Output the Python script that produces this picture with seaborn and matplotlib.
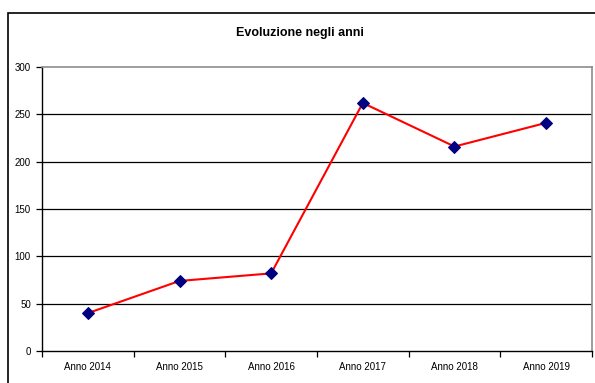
import matplotlib
matplotlib.use("Agg")
import matplotlib.pyplot as plt
from matplotlib.patches import Rectangle
from matplotlib.ticker import FixedLocator, NullFormatter
import pandas as pd
import seaborn as sns

anni = ["Anno 2014", "Anno 2015", "Anno 2016", "Anno 2017", "Anno 2018", "Anno 2019"]
valori = [40, 74, 82, 262, 216, 241]
y_ticks = [0, 50, 100, 150, 200, 250, 300]

sns.set_theme(style="white")
plt.rcParams["font.family"] = ["Liberation Sans", "DejaVu Sans"]
plt.rcParams["text.color"] = "black"
plt.rcParams["xtick.color"] = "black"
plt.rcParams["ytick.color"] = "black"

W, H = 595, 383
fig = plt.figure(figsize=(W / 100, H / 100), dpi=100)
fig.patch.set_facecolor("white")

# plot area in pixel coordinates: left 42, right 592, top 67, bottom 351
ax = fig.add_axes([42 / W, 1 - 351 / H, (592 - 42) / W, (351 - 67) / H])

df = pd.DataFrame({"anno": anni, "valore": valori})
sns.lineplot(data=df, x="anno", y="valore", ax=ax, sort=False,
             color="#ff0000", linewidth=1.5, marker="D", markersize=6,
             markerfacecolor="#000080", markeredgecolor="#000080")

ax.set_xlim(-0.5, len(anni) - 0.5)
ax.set_ylim(0, 300)
ax.set_xlabel("")
ax.set_ylabel("")

# horizontal gridlines
for v in y_ticks[1:-1]:
    ax.axhline(v, color="black", linewidth=0.9, zorder=0)

ax.set_yticks(y_ticks)
ax.set_yticklabels([str(v) for v in y_ticks], fontsize=7, color="black")

# category labels centred, tick marks on the category boundaries
ax.xaxis.set_major_locator(FixedLocator([i - 0.5 for i in range(len(anni) + 1)]))
ax.xaxis.set_major_formatter(NullFormatter())
ax.xaxis.set_minor_locator(FixedLocator(list(range(len(anni)))))
ax.set_xticklabels(anni, minor=True, fontsize=7, color="black")
ax.tick_params(axis="x", which="major", direction="out", length=4, width=0.9,
               color="black", bottom=True)
ax.tick_params(axis="x", which="minor", length=0, pad=8, bottom=True)
ax.tick_params(axis="y", direction="out", length=4, width=0.9, color="black",
               left=True, pad=4)

for side in ("left", "bottom"):
    ax.spines[side].set_color("black")
    ax.spines[side].set_linewidth(1.0)
for side in ("top", "right"):
    ax.spines[side].set_color("#8c8c8c")
    ax.spines[side].set_linewidth(1.2)

fig.text(300 / W, 1 - 33 / H, "Evoluzione negli anni", ha="center", va="center",
         fontsize=9, fontweight="bold", color="black")

# outer chart frame
fig.patches.append(Rectangle((8 / W, -0.1), 1.1, 1 - 13 / H + 0.1,
                             transform=fig.transFigure, fill=False,
                             edgecolor="black", linewidth=1.2))

fig.savefig("out.png", dpi=100)
